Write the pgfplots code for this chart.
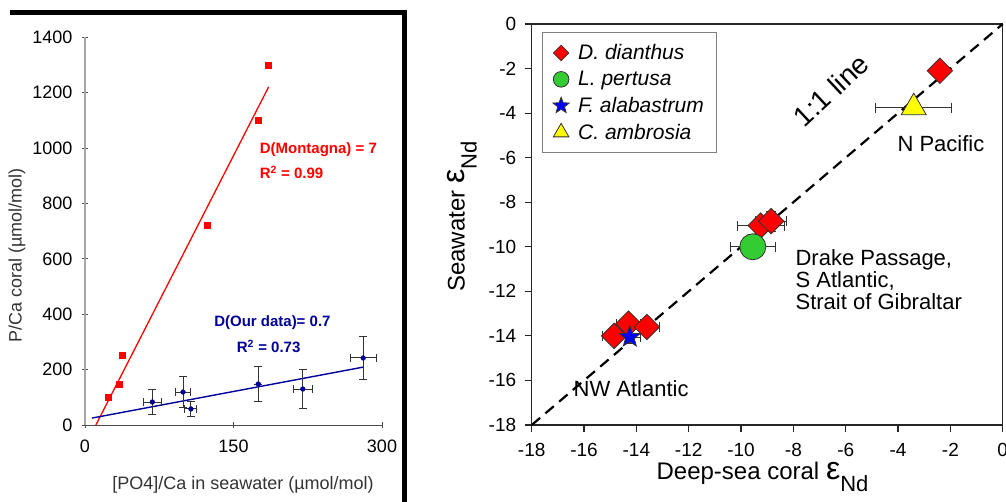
\documentclass[border=0pt]{standalone}
\usepackage{fontspec}
\setmainfont{Liberation Sans}
\usepackage{pgfplots}
\pgfplotsset{compat=1.18}
\usetikzlibrary{plotmarks}

\definecolor{exRed}{HTML}{FF0000}
\definecolor{exNavy}{HTML}{000099}
\definecolor{cGreen}{HTML}{33CC33}
\definecolor{cBlue}{HTML}{0000FF}
\definecolor{cYellow}{HTML}{FFFF00}
\newcommand{\fs}[1]{\fontsize{#1}{#1}\selectfont}

% filled five-pointed star
\pgfdeclareplotmark{fstar}{%
  \pgfpathmoveto{\pgfqpointpolar{90}{\pgfplotmarksize}}%
  \pgfpathlineto{\pgfqpointpolar{126}{0.42\pgfplotmarksize}}%
  \pgfpathlineto{\pgfqpointpolar{162}{\pgfplotmarksize}}%
  \pgfpathlineto{\pgfqpointpolar{198}{0.42\pgfplotmarksize}}%
  \pgfpathlineto{\pgfqpointpolar{234}{\pgfplotmarksize}}%
  \pgfpathlineto{\pgfqpointpolar{270}{0.42\pgfplotmarksize}}%
  \pgfpathlineto{\pgfqpointpolar{306}{\pgfplotmarksize}}%
  \pgfpathlineto{\pgfqpointpolar{342}{0.42\pgfplotmarksize}}%
  \pgfpathlineto{\pgfqpointpolar{18}{\pgfplotmarksize}}%
  \pgfpathlineto{\pgfqpointpolar{54}{0.42\pgfplotmarksize}}%
  \pgfpathclose
  \pgfusepathqfillstroke
}

\pgfplotsset{
  panel/.style={
    scale only axis,anchor=south west,clip=false,
    tick align=outside,
    /pgf/number format/assume math mode=true,
    /pgf/number format/1000 sep={},
  },
  ebar/.style={
    error bars/x dir=both,error bars/x explicit,
    error bars/y dir=both,error bars/y explicit,
    error bars/error bar style={black!80,line width=1pt},
    error bars/error mark options={rotate=90,black!80,mark size=#1,line width=1pt},
  },
}

% left panel: blue points with error bars
\pgfplotstableread{
x   y    ex   ey
68  83   9    45
99  119  8    56
107 58   6    27
175 148  0    63
220 130  9.5  72
281 242  13   78
}\ourdata

% right panel
\pgfplotstableread{
x      y      ex   ey
-2.4   -2.1   0    0
-9.25  -9.05  0.9  0.35
-8.85  -8.85  0.6  0.45
-14.85 -14.0  0.45 0.3
-14.3  -13.45 0.45 0.3
-13.6  -13.6  0.5  0.3
}\dianthus
\pgfplotstableread{
x      y      ex   ey
-9.55  -10.0  0.85 0
}\pertusa
\pgfplotstableread{
x      y      ex   ey
-14.25 -14.05 0.4  0.3
}\alabastrum
\pgfplotstableread{
x      y      ex   ey
-3.4   -3.75  1.45 0
}\ambrosia

\begin{document}
\begin{tikzpicture}
\useasboundingbox (0pt,0pt) rectangle (1006pt,-502pt);

% ---------------- left panel
\begin{axis}[panel,
  at={(85pt,-425pt)},
  width=297pt,height=387.7pt,
  xmin=0,xmax=300,ymin=0,ymax=1400,
  xtick={0,150,300},ytick={0,200,...,1400},
  axis x line=bottom,axis y line=left,
  x axis line style={-,black!70,line width=0.8pt},
  y axis line style={-,black!35,line width=1.3pt},
  major tick length=6pt,
  xtick style={black!70,line width=0.8pt},ytick style={black!70,line width=0.8pt},
  tick label style={font=\fs{18}},
  xticklabel style={yshift=-8pt},
  yticklabel style={xshift=-6pt},
  xlabel={[PO4]/Ca in seawater (µmol/mol)},
  ylabel={P/Ca coral (µmol/mol)},
  xlabel style={at={(axis description cs:0.532,-0.155)},anchor=center,font=\fs{18},text=black!80},
  ylabel style={at={(axis description cs:-0.229,0.438)},anchor=center,font=\fs{18},text=black!80},
]
\addplot[exRed,line width=1.3pt] coordinates {(11,0)(185.5,1221)};
\addplot[exNavy,line width=1.4pt] coordinates {(7,25)(281,209)};
\addplot[only marks,mark=square*,mark size=3pt,exRed]
  coordinates {(23,100)(35,148)(38,251)(123,720)(175,1100)(185,1300)};
\addplot[only marks,mark=*,mark size=2.4pt,exNavy,ebar=4pt]
  table[x=x,y=y,x error=ex,y error=ey] {\ourdata};
\node[anchor=west,text=exRed,font=\fs{15}\bfseries] at (axis cs:173,993) {D(Montagna) = 7};
\node[anchor=west,text=exRed,font=\fs{15}\bfseries] at (axis cs:173,913) {R\textsuperscript{2} = 0.99};
\node[anchor=west,text=exNavy,font=\fs{15}\bfseries] at (axis cs:127,368) {D(Our data)= 0.7};
\node[anchor=center,text=exNavy,font=\fs{15}\bfseries] at (axis cs:185.5,284) {R\textsuperscript{2} = 0.73};
\end{axis}

\draw[line width=5pt,line join=miter] (10pt,-12.5pt) -- (404.2pt,-12.5pt) -- (404.2pt,-505pt);

% ---------------- right panel
\begin{axis}[panel,
  at={(531.7pt,-425pt)},
  width=471pt,height=401pt,
  xmin=-18,xmax=0,ymin=-18,ymax=0,
  xtick={-18,-16,...,0},ytick={-18,-16,...,0},
  tick pos=left,
  axis line style={black!85,line width=1.1pt},
  major tick style={black!85,line width=1.1pt},
  major tick length=7pt,
  tick label style={font=\fs{19}},
  xticklabel style={yshift=-8pt},
  yticklabel style={xshift=-5pt},
  xlabel={Deep-sea coral {\fs{32}ε}\raisebox{-12pt}{\fs{22}Nd}},
  ylabel={Seawater {\fs{32}ε}\raisebox{-12pt}{\fs{22}Nd}},
  xlabel style={at={(axis description cs:0.49,-0.13)},anchor=center,font=\fs{24}},
  ylabel style={at={(axis description cs:-0.148,0.52)},anchor=center,font=\fs{24}},
  legend style={at={(axis cs:-17.62,-0.37)},anchor=north west,
    draw=black!50,line width=0.8pt,font=\fs{21}\itshape,
    row sep=6pt,inner xsep=11pt,inner ysep=10pt,
    /tikz/every odd column/.append style={column sep=7pt}},
  legend cell align=left,
]
\addplot[forget plot,black,line width=2.2pt,dash pattern=on 11pt off 7pt]
  coordinates {(-18,-18)(0,0)};
\addplot[only marks,mark=square*,mark size=9pt,mark options={rotate=45,fill=exRed,draw=black!80,line width=0.8pt},
  ebar=5pt,legend image post style={mark size=5.5pt}]
  table[x=x,y=y,x error=ex,y error=ey] {\dianthus};
\addlegendentry{D. dianthus}
\addplot[only marks,mark=*,mark size=13pt,mark options={fill=cGreen,draw=black!80,line width=0.8pt},
  ebar=5pt,legend image post style={mark size=7.8pt}]
  table[x=x,y=y,x error=ex,y error=ey] {\pertusa};
\addlegendentry{L. pertusa}
\addplot[only marks,mark=fstar,mark size=11pt,mark options={fill=cBlue,draw=black!80,line width=0.8pt},
  ebar=5pt,legend image post style={mark size=8.5pt}]
  table[x=x,y=y,x error=ex,y error=ey] {\alabastrum};
\addlegendentry{F. alabastrum}
\addplot[only marks,mark=triangle*,mark size=14.4pt,mark options={fill=cYellow,draw=black!80,line width=0.8pt},
  ebar=5pt,legend image post style={mark size=9pt}]
  table[x=x,y=y,x error=ex,y error=ey] {\ambrosia};
\addlegendentry{C. ambrosia}
\node[rotate=43,font=\fs{28}] at (axis cs:-6.56,-2.97) {1:1 line};
\node[font=\fs{22}] at (axis cs:-2.36,-5.35) {N Pacific};
\node[anchor=west,align=left,font=\fs{22}] at (axis cs:-8.05,-11.48)
  {Drake Passage,\\S Atlantic,\\Strait of Gibraltar};
\node[font=\fs{22}] at (axis cs:-14.2,-16.36) {NW Atlantic};
\end{axis}
\end{tikzpicture}
\end{document}
